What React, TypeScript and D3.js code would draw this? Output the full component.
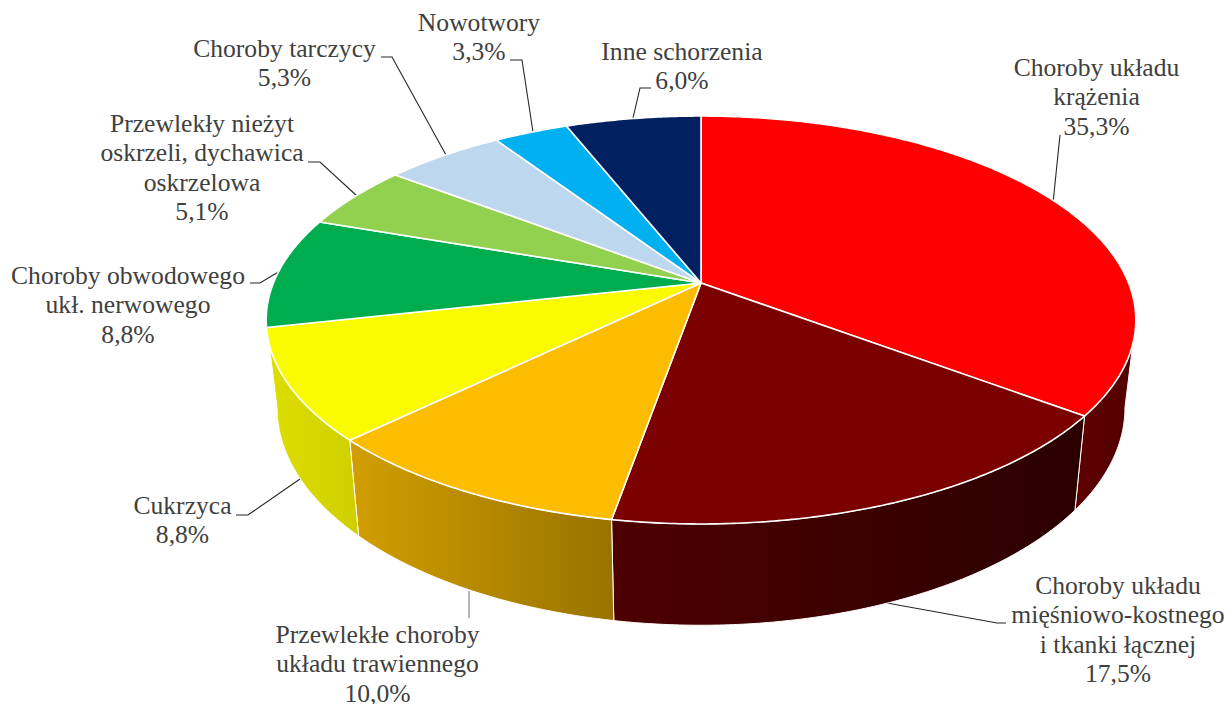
import React from "react";
import * as d3 from "d3";

const categories = [
  "Choroby układu krążenia",
  "Choroby układu mięśniowo-kostnego i tkanki łącznej",
  "Przewlekłe choroby układu trawiennego",
  "Cukrzyca",
  "Choroby obwodowego ukł. nerwowego",
  "Przewlekły nieżyt oskrzeli, dychawica oskrzelowa",
  "Choroby tarczycy",
  "Nowotwory",
  "Inne schorzenia",
];
const values = [35.3, 17.5, 10.0, 8.8, 8.8, 5.1, 5.3, 3.3, 6.0];
const topColors = ["#ff0000", "#7b0000", "#fcbc00", "#fafa00", "#00ad4e", "#92d050", "#bdd7ee", "#00b0f0", "#002060"];
const wallFrom = ["#5e0000", "#4e0000", "#d29e00", "#dede00", "#000", "#000", "#000", "#000", "#000"];
const wallTo = ["#520000", "#2b0000", "#987300", "#cfcf00", "#000", "#000", "#000", "#000", "#000"];

// layout of the labels: wrapped lines, centre x, first baseline, leader polyline
const labelLines = [
  ["Choroby układu", "krążenia", "35,3%"],
  ["Choroby układu", "mięśniowo-kostnego", "i tkanki łącznej", "17,5%"],
  ["Przewlekłe choroby", "układu trawiennego", "10,0%"],
  ["Cukrzyca", "8,8%"],
  ["Choroby obwodowego", "ukł. nerwowego", "8,8%"],
  ["Przewlekły nieżyt", "oskrzeli, dychawica", "oskrzelowa", "5,1%"],
  ["Choroby tarczycy", "5,3%"],
  ["Nowotwory", "3,3%"],
  ["Inne schorzenia", "6,0%"],
];
const labelX = [1096.5, 1118, 377.5, 182.5, 128, 202, 284.5, 479, 682];
const labelY = [76, 594, 643, 514, 284, 132, 57, 31, 60];
const leaders: [number, number][][] = [
  [[1060, 135], [1053, 203]],
  [[887, 603], [997, 623], [1006, 623]],
  [[469, 591], [469, 618]],
  [[300, 479], [248, 515], [236, 515]],
  [[280, 271], [260, 283], [250, 283]],
  [[357, 196], [320, 162], [308, 162]],
  [[446, 155], [392, 57], [381, 57]],
  [[533, 132], [522, 60], [510, 60]],
  [[633, 118], [640, 88], [651, 88]],
];

// perspective projection of the pie's disc
const apexX = 701;
const apexY = 283;
const persp = -0.1814;
const yGain = 145.9;
const xGain = 427.6;
const project = (a: number): [number, number] => {
  const u = Math.sin(a);
  const v = -Math.cos(a);
  const w = 1 + persp * v;
  return [apexX + (xGain * u) / w, (apexY + yGain * v) / w];
};
const drop = ([x, y]: [number, number]): [number, number] => [
  apexX + (x - apexX) * 0.975,
  y + 87.7 + (y - 320) * 0.0667,
];
const rightLimit = Math.acos(persp);
const leftLimit = 2 * Math.PI - rightLimit;

const arcPoints = (a0: number, a1: number) => {
  const n = Math.max(2, Math.ceil(((a1 - a0) * 180) / Math.PI) * 2);
  return d3.range(n + 1).map((i) => project(a0 + ((a1 - a0) * i) / n));
};
const line = d3.line<[number, number]>();
const pie = d3.pie<number>().sort(null).startAngle(0).endAngle(2 * Math.PI);

export default function App() {
  const arcs = pie(values);
  const walls = arcs
    .map((d, i) => {
      const a0 = Math.max(d.startAngle, rightLimit);
      const a1 = i === 3 ? leftLimit : Math.min(d.endAngle, leftLimit);
      if (a1 <= a0 || i > 3) return null;
      const top = arcPoints(a0, a1);
      const bottom = top.map(drop).reverse();
      const all = [...top, ...bottom];
      const ext = d3.extent(all, (p) => p[0]) as [number, number];
      return { i, path: line(all) + "Z", x0: ext[0], x1: ext[1] };
    })
    .filter(Boolean) as { i: number; path: string; x0: number; x1: number }[];

  return (
    <svg
      width={1228}
      height={704}
      viewBox="0 0 1228 704"
      style={{ position: "absolute", left: 0, top: 0, display: "block", background: "#fff" }}
    >
      <defs>
        {walls.map((w) => (
          <linearGradient key={w.i} id={`wall${w.i}`} gradientUnits="userSpaceOnUse" x1={w.x0} x2={w.x1} y1={0} y2={0}>
            <stop offset="0" stopColor={wallFrom[w.i]} />
            <stop offset="1" stopColor={wallTo[w.i]} />
          </linearGradient>
        ))}
      </defs>

      {leaders.map((pts, i) => (
        <path key={i} d={line(pts) as string} fill="none" stroke={i === 2 ? "#777" : "#262626"} strokeWidth={1.1} />
      ))}

      {walls.map((w) => (
        <path key={w.i} d={w.path} fill={`url(#wall${w.i})`} stroke="#fff" strokeWidth={1} strokeLinejoin="round" />
      ))}

      {arcs.map((d, i) => {
        const pts = [[apexX, apexY] as [number, number], ...arcPoints(d.startAngle, d.endAngle)];
        return (
          <path
            key={categories[i]}
            d={line(pts) + "Z"}
            fill={topColors[i]}
            stroke="#fff"
            strokeWidth={1.6}
            strokeLinejoin="round"
          />
        );
      })}

      {labelLines.map((lines, i) => (
        <text
          key={i}
          x={labelX[i]}
          y={labelY[i]}
          textAnchor="middle"
          fontFamily="'Liberation Serif', serif"
          fontSize={25.6}
          fill="#404040"
        >
          {lines.map((t, j) => (
            <tspan key={j} x={labelX[i]} dy={j === 0 ? 0 : 29.4}>
              {t}
            </tspan>
          ))}
        </text>
      ))}
    </svg>
  );
}
